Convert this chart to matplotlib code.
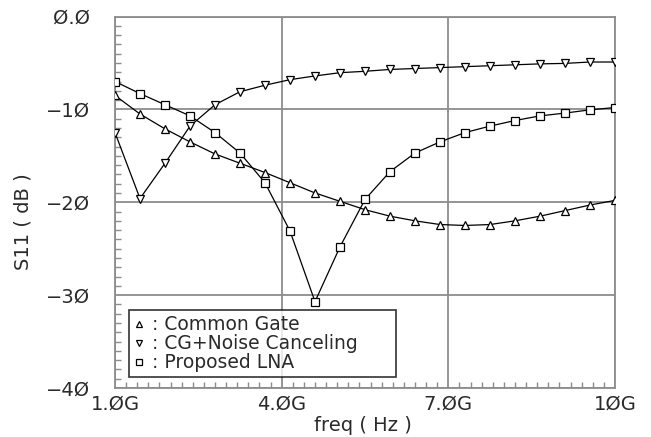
import matplotlib
matplotlib.use("Agg")
import matplotlib.pyplot as plt
from matplotlib.lines import Line2D
from matplotlib.ticker import MultipleLocator, FixedLocator
import numpy as np

freq_ghz = [1.0, 1.45, 1.9, 2.35, 2.8, 3.25, 3.7, 4.15, 4.6, 5.05, 5.5,
            5.95, 6.4, 6.85, 7.3, 7.75, 8.2, 8.65, 9.1, 9.55, 10.0]
common_gate = [-8.5, -10.5, -12.1, -13.5, -14.8, -15.8, -16.8, -17.9, -19.0, -19.9, -20.8,
               -21.5, -22.0, -22.4, -22.5, -22.4, -22.0, -21.5, -20.9, -20.3, -19.8]
cg_noise_cancel = [-12.5, -19.6, -15.8, -11.8, -9.5, -8.1, -7.4, -6.8, -6.4, -6.05, -5.9,
                   -5.7, -5.6, -5.5, -5.4, -5.3, -5.2, -5.1, -5.05, -4.9, -4.9]
proposed_lna = [-7.0, -8.3, -9.5, -10.7, -12.5, -14.7, -17.9, -23.1, -30.7, -24.8, -19.7,
                -16.7, -14.7, -13.5, -12.5, -11.8, -11.2, -10.7, -10.4, -10.05, -9.8]
series_labels = ["Common Gate", "CG+Noise Canceling", "Proposed LNA"]
x_ticks = [1.0, 4.0, 7.0, 10.0]
x_ticklabels = ["1.ØG", "4.ØG", "7.ØG", "1ØG"]
y_ticks = [0, -10, -20, -30, -40]
y_ticklabels = ["Ø.Ø", "\u22121Ø", "\u22122Ø", "\u22123Ø", "\u22124Ø"]

fig = plt.figure(figsize=(6.51, 4.37), dpi=100)
ax = fig.add_axes([115/651, 1-388/437, 500/651, 371.5/437])

grid_c = "#8c8c8c"
txt_c = "#2a2a2a"
ms = dict(markerfacecolor="white", markeredgecolor="black", markeredgewidth=0.9)
ax.plot(freq_ghz, common_gate, color="black", lw=0.9, marker="^", markersize=6, **ms, zorder=3)
ax.plot(freq_ghz, cg_noise_cancel, color="black", lw=0.9, marker="v", markersize=6, **ms, zorder=3)
ax.plot(freq_ghz, proposed_lna, color="black", lw=0.9, marker="s", markersize=5.5, **ms, zorder=3)

ax.set_xlim(1, 10)
ax.set_ylim(-40, 0)
ax.xaxis.set_major_locator(FixedLocator(x_ticks))
ax.yaxis.set_major_locator(FixedLocator(y_ticks))
ax.set_xticklabels(x_ticklabels)
ax.set_yticklabels(y_ticklabels)
ax.xaxis.set_minor_locator(MultipleLocator(0.2))
ax.yaxis.set_minor_locator(MultipleLocator(1))
ax.tick_params(which="major", length=0, labelsize=14, colors=txt_c)
ax.tick_params(axis="x", which="major", pad=5)
ax.tick_params(axis="y", which="major", pad=18)
ax.tick_params(which="minor", direction="in", length=4, color=grid_c, width=1,
               top=False, right=False)
ax.grid(True, which="major", color=grid_c, lw=1.3)
for s in ax.spines.values():
    s.set_color(grid_c)
    s.set_linewidth(1.3)

ax.set_xlabel("freq ( Hz )", fontsize=14, color=txt_c)
ax.xaxis.set_label_coords(0.495, -0.075)
ax.set_ylabel("S11 ( dB )", fontsize=14, color=txt_c)
ax.yaxis.set_label_coords(-0.165, 0.447)

handles = [Line2D([], [], ls="none", marker=m, markersize=5, **ms) for m in ["^", "v", "s"]]
labels = [": " + l for l in series_labels]
leg = ax.legend(handles, labels, loc="lower left", bbox_to_anchor=(0.028, 0.03, 0.534, 0.18),
                mode="expand", fontsize=13.5, frameon=True, fancybox=False, borderpad=0.25,
                labelspacing=0.0, handlelength=0.6, handletextpad=0.4, borderaxespad=0)
leg.get_frame().set_edgecolor("black")
leg.get_frame().set_linewidth(1.2)
leg.set_zorder(5)
for t in leg.get_texts():
    t.set_color(txt_c)

fig.savefig("out.png", dpi=100)
